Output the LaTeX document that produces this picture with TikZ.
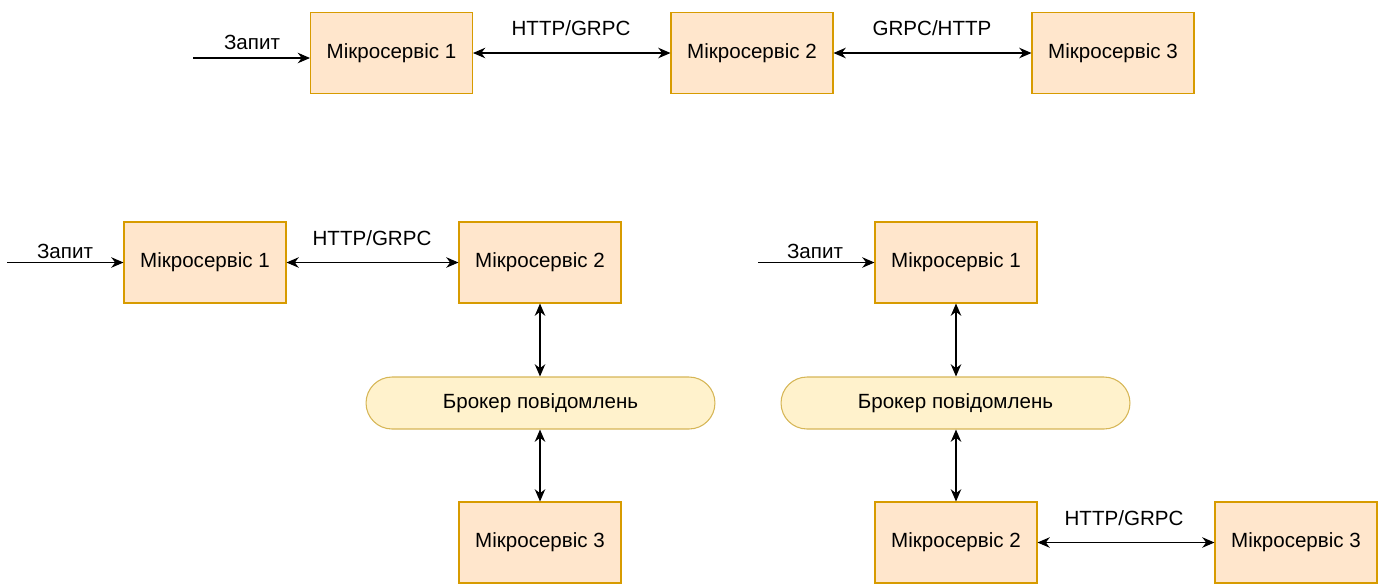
\documentclass[tikz,border=0pt]{standalone}
\usepackage{fontspec}
\setmainfont{Liberation Sans}
\usepackage{tikz}
\usetikzlibrary{positioning,arrows.meta,shapes.misc}
\definecolor{msfill}{HTML}{FFE6CC}
\definecolor{msline}{HTML}{D79B00}
\definecolor{brfill}{HTML}{FFF2CC}
\definecolor{brline}{HTML}{D6B656}
\tikzset{service/.style={rectangle, draw=msline, fill=msfill, line width=0.6pt, minimum width=3.24cm, minimum height=1.62cm, inner sep=0pt, font=\fontsize{11.7}{14}\selectfont}}
\tikzset{broker/.style={rounded rectangle, draw=brline, fill=brfill, line width=0.6pt, minimum width=6.98cm, minimum height=1.04cm, inner sep=0pt, font=\fontsize{11.7}{14}\selectfont}}
\tikzset{link/.style={line width=0.6pt, {Stealth[length=7pt,width=6pt]}-{Stealth[length=7pt,width=6pt]}}}
\tikzset{req/.style={line width=0.6pt, -{Stealth[length=7pt,width=6pt]}}}
\tikzset{lbl/.style={inner sep=0pt, font=\fontsize{11.7}{14}\selectfont}}

\begin{document}
\begin{tikzpicture}[x=0.02cm,y=-0.02cm]
		\useasboundingbox (0,0) rectangle (1384,583);
		% top row: direct calls
		\node[service] (ta) at (391.5,53) {Мікросервіс 1};
		\node[service] (tb) at (752,53) {Мікросервіс 2};
		\node[service] (tc) at (1113,53) {Мікросервіс 3};
		\coordinate (treq) at (193,58);
		\draw [req] (treq) -- (treq -| ta.west);
		\node [lbl] (treqlbl) at (252,42) {Запит};
		\draw [link] (ta) -- (tb);
		\draw [link] (tb) -- (tc);
		\node [lbl] (tablbl) at (571,28) {HTTP/GRPC};
		\node [lbl] (tbclbl) at (932,28) {GRPC/HTTP};
		% bottom left: broker between 2 and 3
		\node[service] (la) at (205,262.5) {Мікросервіс 1};
		\node[service] (lb) at (540,262.5) {Мікросервіс 2};
		\node[broker] (lbr) at (540.5,403) {Брокер повідомлень};
		\node[service] (lc) at (540,542.5) {Мікросервіс 3};
		\coordinate (lreq) at (7,262.5);
		\draw [req] (lreq) -- (la);
		\node [lbl] (lreqlbl) at (65,251) {Запит};
		\draw [link] (la) -- (lb);
		\node [lbl] (lablbl) at (372,238) {HTTP/GRPC};
		\draw [link] (lb) -- (lb |- lbr.north);
		\draw [link] (lc |- lbr.south) -- (lc);
		% bottom right: broker between 1 and 2
		\node[service] (ra) at (956,262.5) {Мікросервіс 1};
		\node[broker] (rbr) at (955.5,403) {Брокер повідомлень};
		\node[service] (rb) at (956,542.5) {Мікросервіс 2};
		\node[service] (rc) at (1296,542.5) {Мікросервіс 3};
		\coordinate (rreq) at (758,262.5);
		\draw [req] (rreq) -- (ra);
		\node [lbl] (rreqlbl) at (815,251) {Запит};
		\draw [link] (ra) -- (ra |- rbr.north);
		\draw [link] (rb |- rbr.south) -- (rb);
		\draw [link] (rb) -- (rc);
		\node [lbl] (rbclbl) at (1124,518) {HTTP/GRPC};
\end{tikzpicture}
\end{document}
